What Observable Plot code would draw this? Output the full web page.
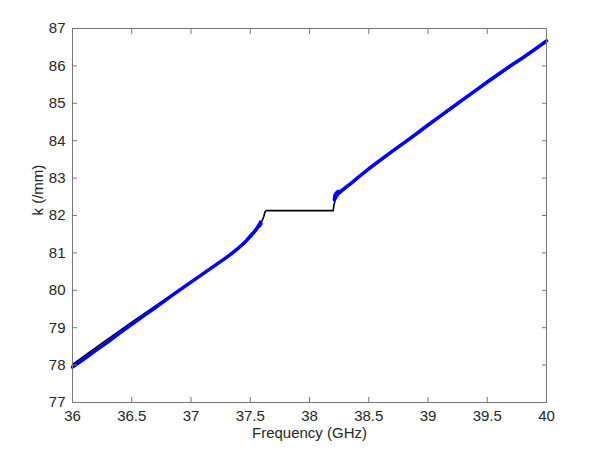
<!DOCTYPE html>
<html>
<head>
<meta charset="utf-8">
<script src="https://cdn.jsdelivr.net/npm/d3@7"></script>
<script src="https://cdn.jsdelivr.net/npm/@observablehq/plot@0.6"></script>
<style>
  html, body { margin: 0; padding: 0; background: #fff; }
  #chart { width: 598px; height: 453px; }
</style>
</head>
<body>
<div id="chart"></div>
<script>
// Tick values and labels
const xTicks = [36, 36.5, 37, 37.5, 38, 38.5, 39, 39.5, 40];
const yTicks = [77, 78, 79, 80, 81, 82, 83, 84, 85, 86, 87];
const xLabel = "Frequency (GHz)";
const yLabel = "k (/mm)";

// Model curve (black)
const modelFreq = [36.0, 36.25, 36.5, 36.75, 37.0, 37.2, 37.35, 37.45, 37.52, 37.57, 37.6, 37.615, 37.625, 37.635,
  38.2, 38.205, 38.215, 38.23, 38.26, 38.3, 38.4, 38.5, 38.75, 39.0, 39.25, 39.5, 39.75, 40.0];
const modelK = [78.02, 78.59, 79.15, 79.69, 80.22, 80.65, 80.99, 81.25, 81.47, 81.68, 81.86, 81.98, 82.10, 82.13,
  82.13, 82.25, 82.40, 82.52, 82.60, 82.71, 82.97, 83.23, 83.82, 84.40, 84.98, 85.55, 86.10, 86.64];

// Measured curve (blue), lower branch
const measLowFreq = [36.0, 36.1, 36.2, 36.3, 36.4, 36.5, 36.6, 36.7, 36.8, 36.9, 37.0, 37.1, 37.2, 37.3, 37.35,
  37.4, 37.45, 37.5, 37.53, 37.55, 37.565, 37.575, 37.58, 37.585, 37.59];
const measLowK = [77.95, 78.17, 78.40, 78.62, 78.86, 79.09, 79.32, 79.54, 79.77, 80.00, 80.22, 80.44, 80.66, 80.88, 81.00,
  81.13, 81.27, 81.45, 81.55, 81.63, 81.70, 81.76, 81.72, 81.82, 81.78];

// Measured curve (blue), upper branch
const measHighFreq = [38.21, 38.215, 38.22, 38.225, 38.23, 38.24, 38.25, 38.3, 38.35, 38.4, 38.5, 38.6, 38.7, 38.8,
  38.9, 39.0, 39.1, 39.2, 39.3, 39.4, 39.5, 39.6, 39.7, 39.8, 39.9, 40.0];
const measHighK = [82.42, 82.55, 82.47, 82.60, 82.52, 82.64, 82.62, 82.74, 82.86, 82.99, 83.25, 83.49, 83.72, 83.95,
  84.18, 84.42, 84.65, 84.88, 85.11, 85.34, 85.57, 85.79, 86.01, 86.22, 86.44, 86.67];

const model = modelFreq.map((f, i) => ({f, k: modelK[i]}));
const measLow = measLowFreq.map((f, i) => ({f, k: measLowK[i]}));
const measHigh = measHighFreq.map((f, i) => ({f, k: measHighK[i]}));

const axisColor = "#777";
const textColor = "#262626";

const chart = Plot.plot({
  width: 598,
  height: 453,
  marginLeft: 72,
  marginRight: 52,
  marginTop: 28,
  marginBottom: 51,
  x: {domain: [36, 40]},
  y: {domain: [77, 87]},
  style: {fontFamily: "'Liberation Sans', Arial, Helvetica, sans-serif", fontSize: "15px", color: textColor, background: "#fff"},
  marks: [
    Plot.line(model, {x: "f", y: "k", stroke: "#000", strokeWidth: 1.6}),
    Plot.line(measLow, {x: "f", y: "k", stroke: "#0000ff", strokeWidth: 3.5}),
    Plot.line(measHigh, {x: "f", y: "k", stroke: "#0000ff", strokeWidth: 3.5}),
    Plot.frame({stroke: axisColor, strokeWidth: 1}),
    // inward ticks on all four sides
    Plot.axisX(xTicks, {anchor: "bottom", tickSize: 5, dy: -5, fill: "none", label: null, stroke: axisColor}),
    Plot.axisX(xTicks, {anchor: "top", tickSize: 5, dy: 5, fill: "none", label: null, stroke: axisColor}),
    Plot.axisY(yTicks, {anchor: "left", tickSize: 5, dx: 5, fill: "none", label: null, stroke: axisColor}),
    Plot.axisY(yTicks, {anchor: "right", tickSize: 5, dx: -5, fill: "none", label: null, stroke: axisColor}),
    // tick labels
    Plot.axisX(xTicks, {anchor: "bottom", tickSize: 0, tickPadding: 8, label: null, fill: textColor, fontSize: 15, tickFormat: d => String(d)}),
    Plot.axisY(yTicks, {anchor: "left", tickSize: 0, tickPadding: 7, label: null, fill: textColor, fontSize: 15, tickFormat: d => String(d)}),
    // axis titles
    Plot.text([xLabel], {frameAnchor: "bottom", dy: 35, fill: textColor, fontSize: 15}),
    Plot.text([yLabel], {frameAnchor: "left", dx: -34, rotate: -90, fill: textColor, fontSize: 15})
  ]
});
document.getElementById("chart").appendChild(chart);
</script>
</body>
</html>
